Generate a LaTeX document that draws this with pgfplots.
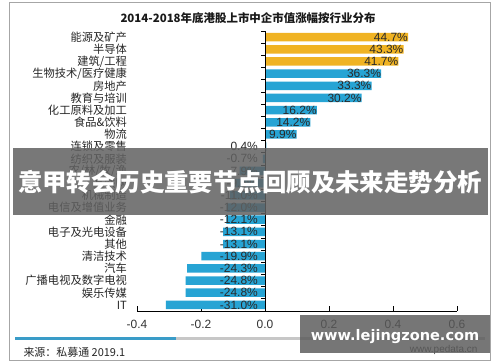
\documentclass[border=0pt]{standalone}
\usepackage{pgfplots}
\pgfplotsset{compat=1.18}
\usepackage{fontspec}
\setmainfont{Noto Sans CJK SC}
\newfontfamily\arial{Liberation Sans}
\newfontfamily\dejavu{DejaVu Sans}
\definecolor{gold}{HTML}{F0B323}
\definecolor{barblue}{HTML}{27A4D4}
\definecolor{lblcol}{HTML}{2A2A2A}
\definecolor{linblue}{HTML}{3A9CC8}
\begin{document}
\begin{tikzpicture}
\fill[white] (0,0) rectangle (500bp,362bp);
\draw[black!35, line width=0.8bp] (9bp,2bp) rectangle (490bp,360bp);
\node[font=\bfseries\fontsize{11.5}{12}\selectfont, text=black!90] at (248bp,344bp) {2014-2018年底港股上市中企市值涨幅按行业分布};
\begin{axis}[
  at={(137bp,51bp)}, anchor=south west,
  scale only axis, width=320bp, height=280bp,
  xmin=-0.4, xmax=0.6, ymin=-0.5, ymax=22.5,
  clip=false,
  axis x line*=bottom, axis y line*=left,
  y axis line style={draw=none},
  x axis line style={black, line width=0.7bp, -},
  xtick={-0.4,-0.2,0,0.2,0.4,0.6},
  xticklabels={-0.4,-0.2,0.0,0.2,0.4,0.6},
  tick align=inside,
  major tick length=5bp,
  xtick style={black, line width=0.7bp},
  xticklabel style={font=\arial\fontsize{12}{12}\selectfont, text=black!80, yshift=-5.5bp},
  ytick={0,...,22},
  ytick style={draw=none},
  yticklabels={IT,娱乐传媒,广播电视及数字电视,汽车,清洁技术,其他,电子及光电设备,金融,电信及增值业务,机械制造,互联网,农/林/牧/渔,纺织及服装,连锁及零售,物流,食品\&饮料,化工原料及加工,教育与培训,房地产,生物技术/医疗健康,建筑/工程,半导体,能源及矿产},
  yticklabel style={font=\fontsize{11.3}{12}\selectfont, text=black!85, anchor=east, inner sep=0pt, xshift=-10bp},
]
\addplot[xbar, bar width=8.5bp, bar shift=0pt, fill=gold, draw=none] coordinates {
  (0.447,22) (0.433,21) (0.417,20)
};
\addplot[xbar, bar width=8.5bp, bar shift=0pt, fill=barblue, draw=none] coordinates {
  (0.363,19) (0.333,18) (0.302,17) (0.162,16) (0.142,15) (0.099,14)
  (0.004,13) (-0.007,12) (-0.079,11) (-0.096,10) (-0.110,9) (-0.120,8)
  (-0.121,7) (-0.131,6) (-0.131,5) (-0.199,4) (-0.243,3) (-0.248,2)
  (-0.248,1) (-0.310,0)
};
\addplot[draw=none, mark=none, nodes near coords, point meta=explicit symbolic,
  nodes near coords style={anchor=east, inner sep=0pt, xshift=0bp, font=\arial\fontsize{12}{12}\selectfont, text=lblcol}]
  coordinates {
  (0.447,22) [44.7\%] (0.433,21) [43.3\%] (0.417,20) [41.7\%]
  (0.363,19) [36.3\%] (0.333,18) [33.3\%] (0.302,17) [30.2\%]
  (0.162,16) [16.2\%] (0.142,15) [14.2\%] (0.099,14) [9.9\%]
};
\addplot[draw=none, mark=none, nodes near coords, point meta=explicit symbolic,
  nodes near coords style={anchor=east, inner sep=0pt, xshift=-7bp, font=\arial\fontsize{12}{12}\selectfont, text=lblcol}]
  coordinates {
  (0,13) [0.4\%] (0,12) [-0.7\%] (0,11) [-7.9\%] (0,10) [-9.6\%] (0,9) [-11.0\%]
  (0,8) [-12.0\%] (0,7) [-12.1\%] (0,6) [-13.1\%] (0,5) [-13.1\%] (0,4) [-19.9\%]
  (0,3) [-24.3\%] (0,2) [-24.8\%] (0,1) [-24.8\%] (0,0) [-31.0\%]
};
\draw[black, line width=0.7bp] (axis cs:0,-0.5) -- (axis cs:0,22.5);
\pgfplotsinvokeforeach{-0.5,0.5,...,22.5}{\draw[black, line width=0.7bp] (axis cs:0,#1) -- ([xshift=-4bp]axis cs:0,#1);}
\end{axis}
\draw[linblue, line width=3bp] (15bp,23bp) -- (176bp,23bp);
\draw[black!22, line width=3bp] (176bp,23bp) -- (485bp,23bp);
\node[anchor=west, font=\fontsize{11}{12}\selectfont, text=black!85] at (20bp,10bp) {来源：私募通 2019.1};
\node[anchor=east, font=\arial\fontsize{10}{12}\selectfont, text=black!70] at (481bp,12bp) {www.pedata.cn};
\fill[black!62, opacity=0.85] (13bp,147bp) rectangle (488bp,214bp);
\node[font=\bfseries\fontsize{24.5}{26}\selectfont, text=white] at (250bp,180bp) {意甲转会历史重要节点回顾及未来走势分析};
\fill[black!65, opacity=0.82] (300bp,9bp) rectangle (490bp,47bp);
\node[font=\dejavu\bfseries\fontsize{14.6}{16}\selectfont, text=white] at (395bp,25bp) {www.lejingzone.com};
\end{tikzpicture}
\end{document}
